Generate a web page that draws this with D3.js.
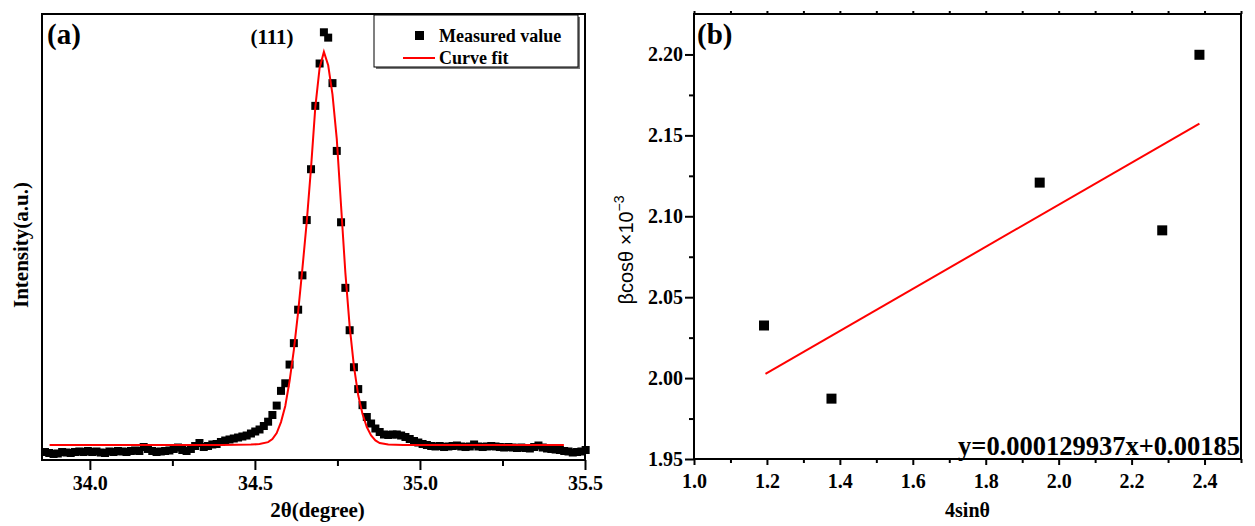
<!DOCTYPE html>
<html><head><meta charset="utf-8">
<script src="https://cdn.jsdelivr.net/npm/d3@7"></script>
<style>
body{margin:0;background:#fff}
svg{display:block}
</style>
</head><body>
<svg id="chart" width="1255" height="526"></svg>
<script>
// ---------- Panel (a): XRD (111) peak ----------
const twoTheta = [
33.864,33.877,33.890,33.903,33.916,33.929,33.942,33.955,33.968,33.981,
33.994,34.007,34.020,34.033,34.046,34.059,34.072,34.085,34.098,34.111,
34.124,34.137,34.150,34.163,34.176,34.189,34.202,34.215,34.228,34.241,
34.254,34.267,34.280,34.293,34.306,34.319,34.332,34.345,34.358,34.371,
34.384,34.397,34.410,34.423,34.436,34.449,34.462,34.475,34.488,34.501,
34.514,34.527,34.540,34.553,34.566,34.579,34.592,34.605,34.618,34.631,
34.644,34.657,34.670,34.683,34.696,34.709,34.722,34.735,34.748,34.761,
34.774,34.787,34.800,34.813,34.826,34.839,34.852,34.865,34.878,34.891,
34.904,34.917,34.930,34.943,34.956,34.969,34.982,34.995,35.008,35.021,
35.034,35.047,35.060,35.073,35.086,35.099,35.112,35.125,35.138,35.151,
35.164,35.177,35.190,35.203,35.216,35.229,35.242,35.255,35.268,35.281,
35.294,35.307,35.320,35.333,35.346,35.359,35.372,35.385,35.398,35.411,
35.424,35.437,35.450,35.463,35.476,35.489,35.502];
const measured = [
1.79,1.57,1.35,1.46,1.79,1.68,1.57,1.79,1.91,1.79,
2.02,1.79,1.91,1.68,1.57,1.91,1.79,2.02,1.91,1.79,
2.02,2.13,2.02,2.91,2.47,2.02,1.79,1.91,2.02,2.13,
2.47,2.80,2.24,2.02,2.47,3.14,3.81,2.91,3.14,3.48,
3.59,4.04,4.37,4.60,4.82,5.04,5.27,5.49,5.94,6.39,
6.84,7.62,8.59,10.09,12.2,15.5,17.2,21.4,26.2,33.7,
41.4,53.8,65.2,79.4,88.9,95.9,94.7,84.5,69.3,53.3,
38.6,29.1,20.8,15.9,12.3,9.64,8.18,7.06,6.28,5.72,
5.61,5.72,5.72,5.49,5.16,4.71,4.26,3.92,3.59,3.36,
3.14,3.03,3.14,2.91,3.03,3.14,3.25,3.03,2.91,3.03,
3.48,3.03,2.91,3.03,3.14,3.03,2.91,2.80,2.91,2.80,
2.69,2.80,2.69,2.58,2.91,3.25,2.80,2.58,2.47,2.35,
2.24,2.02,1.91,1.68,1.79,1.91,2.24];
const fitTwoTheta = [33.878,34.200,34.400,34.488,34.514,34.540,34.553,34.566,34.579,34.592,
34.605,34.618,34.631,34.644,34.657,34.670,34.683,34.696,34.709,34.722,
34.735,34.748,34.761,34.774,34.787,34.800,34.813,34.826,34.839,34.852,
34.865,34.878,34.904,34.950,35.200,35.436];
const fitIntensity = [3.36,3.36,3.38,3.45,3.6,4.0,4.7,6.05,8.5,12.1,
17.7,24.7,33.2,43.0,53.4,65.5,79.1,87.9,91.5,88.5,
82.0,72.0,57.0,42.0,30.0,21.0,14.5,10.3,7.4,5.5,
4.4,3.8,3.48,3.36,3.36,3.36];
const xTicksA = [34.0, 34.5, 35.0, 35.5];
const xMinorA = [34.25, 34.75, 35.25];
const legendLabels = ["Measured value", "Curve fit"];

// ---------- Panel (b): Williamson-Hall plot ----------
const fourSinTheta = [1.192, 1.377, 1.948, 2.284, 2.386];
const betaCosTheta = [2.0325, 1.9873, 2.1208, 2.0913, 2.1998];
const fitLineX = [1.196, 2.386];
const fitLineY = [2.0026, 2.1573];
const xTicksB = [1.0, 1.2, 1.4, 1.6, 1.8, 2.0, 2.2, 2.4];
const xMinorB = [1.1, 1.3, 1.5, 1.7, 1.9, 2.1, 2.3, 2.5];
const yTicksB = [1.95, 2.00, 2.05, 2.10, 2.15, 2.20];
const yMinorB = [1.975, 2.025, 2.075, 2.125, 2.175];
const equationText = "y=0.000129937x+0.00185";

const SERIF = "'Liberation Serif','Times New Roman',serif";
const SANS = "'Liberation Sans',Arial,sans-serif";
const svg = d3.select("#chart");

// ===== Panel (a) =====
const A = {l: 42, r: 585, t: 14, b: 460};
const xA = d3.scaleLinear().domain([33.855, 35.5]).range([A.l, A.r]);
const yA = d3.scaleLinear().domain([0, 100]).range([A.b, A.t]);
const gA = svg.append("g");

function styleAxis(g, size) {
  g.select(".domain").remove();
  g.selectAll(".tick line").attr("stroke", "#000").attr("stroke-width", 2);
  g.attr("font-family", SERIF).attr("font-size", size).attr("font-weight", "bold");
  g.selectAll(".tick text").attr("fill", "#000");
}

gA.append("g").attr("transform", `translate(0,${A.b})`)
  .call(d3.axisBottom(xA).tickValues(xMinorA).tickSize(6).tickFormat(""))
  .call(g => styleAxis(g, 20));
gA.append("g").attr("transform", `translate(0,${A.b})`)
  .call(d3.axisBottom(xA).tickValues(xTicksA).tickSize(10).tickPadding(6).tickFormat(d3.format(".1f")))
  .call(g => styleAxis(g, 20));

// measured squares
gA.append("g").selectAll("rect").data(twoTheta).join("rect")
  .attr("x", (d) => xA(d) - 4)
  .attr("y", (d, i) => yA(measured[i]) - 4)
  .attr("width", 8).attr("height", 8).attr("fill", "#000");

// fit curve
const fitPts = fitTwoTheta.map((d, i) => [d, fitIntensity[i]]);
gA.append("path").datum(fitPts)
  .attr("d", d3.line().x(d => xA(d[0])).y(d => yA(d[1])))
  .attr("fill", "none").attr("stroke", "#ff0000").attr("stroke-width", 2);

// frame
gA.append("rect").attr("x", A.l).attr("y", A.t).attr("width", A.r - A.l).attr("height", A.b - A.t)
  .attr("fill", "none").attr("stroke", "#000").attr("stroke-width", 2);

// labels
gA.append("text").attr("x", 47).attr("y", 44).text("(a)")
  .attr("font-family", SERIF).attr("font-size", 29).attr("font-weight", "bold");
gA.append("text").attr("x", 272).attr("y", 44).attr("text-anchor", "middle").text("(111)")
  .attr("font-family", SERIF).attr("font-size", 21).attr("font-weight", "bold");
gA.append("text").attr("x", (A.l + A.r) / 2 + 4).attr("y", 517).attr("text-anchor", "middle")
  .text("2θ(degree)").attr("font-family", SERIF).attr("font-size", 21).attr("font-weight", "bold");
gA.append("text").attr("transform", "translate(28,245) rotate(-90)").attr("text-anchor", "middle")
  .text("Intensity(a.u.)").attr("font-family", SERIF).attr("font-size", 21).attr("font-weight", "bold");

// legend
const lg = gA.append("g");
lg.append("rect").attr("x", 376).attr("y", 17).attr("width", 204).attr("height", 52).attr("fill", "#777");
lg.append("rect").attr("x", 374).attr("y", 15).attr("width", 204).attr("height", 52)
  .attr("fill", "#fff").attr("stroke", "#000").attr("stroke-width", 1);
lg.append("rect").attr("x", 415).attr("y", 31).attr("width", 9).attr("height", 9).attr("fill", "#000");
lg.append("line").attr("x1", 403).attr("x2", 435).attr("y1", 58).attr("y2", 58)
  .attr("stroke", "#ff0000").attr("stroke-width", 2);
lg.selectAll("text.lab").data(legendLabels).join("text").attr("class", "lab")
  .attr("x", 439).attr("y", (d, i) => 42 + i * 22).text(d => d)
  .attr("font-family", SERIF).attr("font-size", 18).attr("font-weight", "bold");

// ===== Panel (b) =====
const B = {l: 694, r: 1241, t: 14, b: 459};
const xB = d3.scaleLinear().domain([1.0, 2.5]).range([B.l, B.r]);
const yB = d3.scaleLinear().domain([1.95, 2.225]).range([B.b, B.t]);
const gB = svg.append("g");

gB.append("g").attr("transform", `translate(0,${B.b})`)
  .call(d3.axisBottom(xB).tickValues(xMinorB).tickSize(4).tickFormat(""))
  .call(g => styleAxis(g, 20));
gB.append("g").attr("transform", `translate(0,${B.b})`)
  .call(d3.axisBottom(xB).tickValues(xTicksB).tickSize(6).tickPadding(9).tickFormat(d3.format(".1f")))
  .call(g => styleAxis(g, 20));
gB.append("g").attr("transform", `translate(0,${B.t})`)
  .call(d3.axisTop(xB).tickValues(xTicksB.concat(xMinorB)).tickSize(3).tickFormat(""))
  .call(g => styleAxis(g, 20));
gB.append("g").attr("transform", `translate(${B.l},0)`)
  .call(d3.axisLeft(yB).tickValues(yMinorB).tickSize(5).tickFormat(""))
  .call(g => styleAxis(g, 20));
gB.append("g").attr("transform", `translate(${B.l},0)`)
  .call(d3.axisLeft(yB).tickValues(yTicksB).tickSize(9).tickPadding(2).tickFormat(d3.format(".2f")))
  .call(g => styleAxis(g, 20));

// fit line
gB.append("line")
  .attr("x1", xB(fitLineX[0])).attr("y1", yB(fitLineY[0]))
  .attr("x2", xB(fitLineX[1])).attr("y2", yB(fitLineY[1]))
  .attr("stroke", "#ff0000").attr("stroke-width", 2);

// points
gB.append("g").selectAll("rect").data(fourSinTheta).join("rect")
  .attr("x", d => xB(d) - 5)
  .attr("y", (d, i) => yB(betaCosTheta[i]) - 5)
  .attr("width", 10).attr("height", 10).attr("fill", "#000");

// frame
gB.append("rect").attr("x", B.l).attr("y", B.t).attr("width", B.r - B.l).attr("height", B.b - B.t)
  .attr("fill", "none").attr("stroke", "#000").attr("stroke-width", 2);

gB.append("text").attr("x", 697).attr("y", 44).text("(b)")
  .attr("font-family", SERIF).attr("font-size", 29).attr("font-weight", "bold");
gB.append("text").attr("x", B.r - 1).attr("y", 455).attr("text-anchor", "end").text(equationText)
  .attr("font-family", SERIF).attr("font-size", 26.5).attr("font-weight", "bold");
gB.append("text").attr("x", (B.l + B.r) / 2).attr("y", 517).attr("text-anchor", "middle")
  .text("4sinθ").attr("font-family", SERIF).attr("font-size", 20).attr("font-weight", "bold");
const yt = gB.append("text").attr("transform", "translate(633,250) rotate(-90)").attr("text-anchor", "middle")
  .attr("font-family", SANS).attr("font-size", 20);
yt.append("tspan").text("βcosθ ×10");
yt.append("tspan").attr("dy", -9).attr("font-size", 14).text("−3");
</script>
</body></html>
